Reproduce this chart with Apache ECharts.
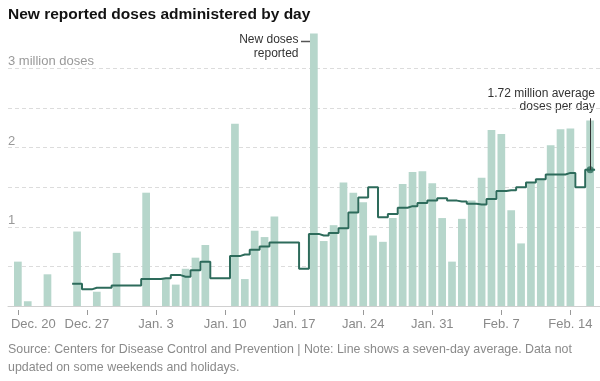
<!DOCTYPE html>
<html><head><meta charset="utf-8">
<script src="https://cdn.jsdelivr.net/npm/echarts@6/dist/echarts.min.js"></script>
<style>html,body{margin:0;padding:0;background:#fff}#c{width:600px;height:381px}</style>
</head><body><div id="c"></div>
<script>
// Days from Dec. 19 to Feb. 17
const days = [
 "Dec. 19","Dec. 20","Dec. 21","Dec. 22","Dec. 23","Dec. 24","Dec. 25","Dec. 26","Dec. 27","Dec. 28","Dec. 29","Dec. 30","Dec. 31",
 "Jan. 1","Jan. 2","Jan. 3","Jan. 4","Jan. 5","Jan. 6","Jan. 7","Jan. 8","Jan. 9","Jan. 10","Jan. 11","Jan. 12","Jan. 13","Jan. 14","Jan. 15","Jan. 16",
 "Jan. 17","Jan. 18","Jan. 19","Jan. 20","Jan. 21","Jan. 22","Jan. 23","Jan. 24","Jan. 25","Jan. 26","Jan. 27","Jan. 28","Jan. 29","Jan. 30","Jan. 31",
 "Feb. 1","Feb. 2","Feb. 3","Feb. 4","Feb. 5","Feb. 6","Feb. 7","Feb. 8","Feb. 9","Feb. 10","Feb. 11","Feb. 12","Feb. 13","Feb. 14","Feb. 15","Feb. 16","Feb. 17"
];
// New reported doses per day, millions (null = not updated)
const dailyDoses = [
 null,0.56,0.06,null,0.40,null,null,0.94,null,0.18,null,0.67,null,
 null,1.43,null,0.35,0.27,0.47,0.61,0.77,null,null,2.30,0.34,0.95,0.87,1.13,null,
 null,null,3.44,0.82,1.02,1.56,1.43,1.31,0.89,0.81,1.11,1.54,1.69,1.70,1.55,
 1.11,0.56,1.10,1.33,1.62,2.22,2.17,1.21,0.79,1.55,1.61,2.03,2.23,2.24,null,2.34,null
];
// Seven-day average, millions
const sevenDayAvg = [
 null,null,null,null,null,null,null,0.28,0.21,0.23,0.23,0.26,0.26,
 0.26,0.34,0.34,0.35,0.39,0.37,0.45,0.56,0.35,0.35,0.63,0.65,0.71,0.75,0.80,0.80,
 0.80,0.47,0.91,0.89,0.92,0.98,1.18,1.37,1.50,1.12,1.16,1.24,1.26,1.30,1.33,
 1.36,1.33,1.32,1.29,1.28,1.35,1.45,1.46,1.50,1.56,1.60,1.66,1.66,1.68,1.50,1.72,null
];
const tickLabels = ["Dec. 20","Dec. 27","Jan. 3","Jan. 10","Jan. 17","Jan. 24","Jan. 31","Feb. 7","Feb. 14"];
const yTicks = {1:"1",2:"2",3:"3 million doses"};

const lastIdx = sevenDayAvg.reduce((a,v,i)=> v!=null ? i : a, 0);
const lastAvg = sevenDayAvg[lastIdx];

const chart = echarts.init(document.getElementById('c'), null, {renderer:'canvas'});
const FONT = '"Liberation Sans", Arial, sans-serif';
const showTick = (i, v) => tickLabels.indexOf(days[i]) >= 0;

chart.setOption({
  animation: false,
  backgroundColor: '#fff',
  textStyle: {fontFamily: FONT},
  grid: {left: 8, right: 0, top: 68.3, bottom: 75, containLabel: false, outerBoundsMode: 'none'},
  xAxis: [
    {type: 'category', data: days, boundaryGap: false,
     axisLine: {show: true, lineStyle: {color: '#d0d0d0', width: 1}},
     axisTick: {show: false}, axisLabel: {show: false}, splitLine: {show: false}},
    {type: 'category', data: days, boundaryGap: false, position: 'bottom', offset: 4,
     axisLine: {show: false},
     axisTick: {show: true, length: 5, lineStyle: {color: '#999', width: 1}, interval: showTick},
     axisLabel: {show: true, interval: showTick, color: '#8a8a8a', fontSize: 13, margin: 8, fontFamily: FONT,
       formatter: v => v === tickLabels[0] ? '{first|' + v + '}' : v,
       rich: {first: {color: '#8a8a8a', fontSize: 13, fontFamily: FONT, padding: [0, 0, 0, 31]}}},
     splitLine: {show: false}}
  ],
  yAxis: {type: 'value', min: 0, max: 3, interval: 0.5,
    axisLine: {show: false}, axisTick: {show: false},
    axisLabel: {inside: true, margin: 0, align: 'left', verticalAlign: 'bottom', color: '#999', fontSize: 13, fontFamily: FONT,
      formatter: v => yTicks[v] || ''},
    splitLine: {show: true, lineStyle: {color: '#dcdcdc', type: [4, 3], width: 1}}
  },
  series: [
    {type: 'bar', name: 'New doses', data: dailyDoses, barWidth: 7.7, clip: false,
     itemStyle: {color: '#b6d6cb'}, silent: true, z: 2},
    {type: 'line', name: '7-day average', data: sevenDayAvg, step: 'middle', symbol: 'none',
     lineStyle: {color: '#2d6b5b', width: 2}, silent: true, z: 3},
    {type: 'scatter', data: [[days[lastIdx], lastAvg]], symbol: 'circle', symbolSize: 7,
     itemStyle: {color: '#2d6b5b'}, silent: true, z: 4,
     markLine: {silent: true, symbol: 'none', label: {show: false},
       lineStyle: {color: '#333', width: 1, type: 'solid'},
       data: [[{coord: [days[lastIdx], lastAvg]}, {coord: [days[lastIdx], 2.37]}]]}}
  ],
  graphic: [
    {type: 'text', x: 8, y: 15, style: {text: 'New reported doses administered by day', fill: '#121212',
      font: 'bold 15.5px ' + FONT, verticalAlign: 'middle', align: 'left'}},
    {type: 'text', x: 298.5, y: 40, style: {text: 'New doses', fill: '#333', font: '12px ' + FONT, align: 'right', verticalAlign: 'middle'}},
    {type: 'text', x: 298.5, y: 53.5, style: {text: 'reported', fill: '#333', font: '12px ' + FONT, align: 'right', verticalAlign: 'middle'}},
    {type: 'line', shape: {x1: 301, y1: 41.5, x2: 310, y2: 41.5}, style: {stroke: '#555', lineWidth: 1.5}},
    {type: 'text', x: 595, y: 93.5, style: {text: '1.72 million average', fill: '#333', font: '12px ' + FONT, align: 'right', verticalAlign: 'middle'}},
    {type: 'text', x: 595, y: 107, style: {text: 'doses per day', fill: '#333', font: '12px ' + FONT, align: 'right', verticalAlign: 'middle'}},
    {type: 'text', x: 8, y: 350, style: {text: 'Source: Centers for Disease Control and Prevention | Note: Line shows a seven-day average. Data not', fill: '#8a8a8a', font: '12.4px ' + FONT, align: 'left', verticalAlign: 'middle'}},
    {type: 'text', x: 8, y: 368, style: {text: 'updated on some weekends and holidays.', fill: '#8a8a8a', font: '12.4px ' + FONT, align: 'left', verticalAlign: 'middle'}}
  ]
});
</script>
</body></html>
